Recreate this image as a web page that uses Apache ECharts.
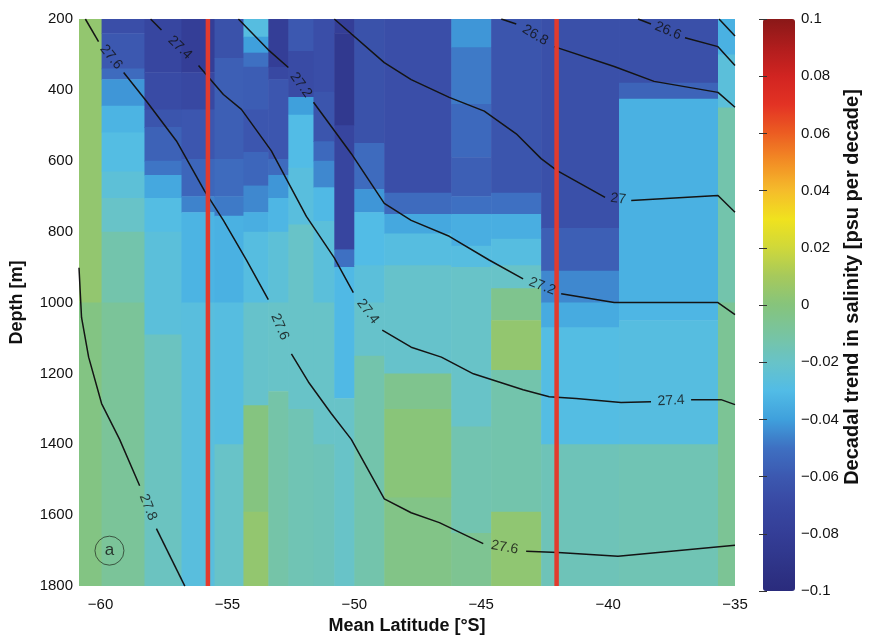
<!DOCTYPE html>
<html>
<head>
<meta charset="utf-8">
<title>Decadal trend in salinity</title>
<script src="https://cdn.jsdelivr.net/npm/echarts@6/dist/echarts.min.js"></script>
<style>
  html, body { margin: 0; padding: 0; background: #fff; }
  #chart { width: 894px; height: 640px; }
</style>
</head>
<body>
<div id="chart"></div>
<script>
// latitude bin edges [deg], south to north
var latEdges = [-60.85, -59.96, -58.27, -56.81, -55.51, -54.37, -53.39, -52.60, -51.61,
                -50.79, -50.00, -48.82, -46.18, -44.61, -42.64, -39.57, -35.67, -35.00];

// one list per latitude bin: [top depth, bottom depth, trend psu/decade]
var trendRuns = [
  [[200,1000,0.004],[1000,1800,-0.002]],
  [[200,240,-0.066],[240,340,-0.06],[340,370,-0.052],[370,445,-0.042],[445,520,-0.033],[520,630,-0.029],[630,705,-0.025],[705,800,-0.02],[800,1000,-0.013],[1000,1800,-0.008]],
  [[200,350,-0.072],[350,455,-0.068],[455,505,-0.062],[505,600,-0.056],[600,640,-0.049],[640,705,-0.037],[705,800,-0.029],[800,1090,-0.026],[1090,1800,-0.018]],
  [[200,350,-0.08],[350,455,-0.07],[455,595,-0.061],[595,700,-0.054],[700,745,-0.046],[745,1000,-0.033],[1000,1800,-0.027]],
  [[200,310,-0.064],[310,595,-0.057],[595,700,-0.052],[700,755,-0.048],[755,1000,-0.034],[1000,1400,-0.028],[1400,1800,-0.02]],
  [[200,250,-0.028],[250,295,-0.04],[295,335,-0.05],[335,455,-0.058],[455,575,-0.061],[575,670,-0.054],[670,745,-0.045],[745,800,-0.035],[800,1000,-0.028],[1000,1290,-0.021],[1290,1590,-0.001],[1590,1800,0.004]],
  [[200,335,-0.08],[335,370,-0.07],[370,595,-0.061],[595,640,-0.052],[640,705,-0.042],[705,800,-0.032],[800,1000,-0.025],[1000,1250,-0.02],[1250,1800,-0.012]],
  [[200,290,-0.06],[290,420,-0.068],[420,470,-0.04],[470,620,-0.03],[620,780,-0.027],[780,1300,-0.02],[1300,1800,-0.015]],
  [[200,405,-0.066],[405,545,-0.062],[545,600,-0.053],[600,675,-0.045],[675,770,-0.031],[770,1000,-0.026],[1000,1400,-0.02],[1400,1800,-0.016]],
  [[200,240,-0.08],[240,500,-0.086],[500,850,-0.073],[850,900,-0.05],[900,1270,-0.031],[1270,1800,-0.02]],
  [[200,550,-0.064],[550,680,-0.052],[680,745,-0.042],[745,895,-0.03],[895,1000,-0.026],[1000,1150,-0.021],[1150,1800,-0.013]],
  [[200,690,-0.066],[690,750,-0.052],[750,805,-0.037],[805,895,-0.028],[895,1200,-0.021],[1200,1300,-0.005],[1300,1550,0.001],[1550,1800,-0.003]],
  [[200,280,-0.042],[280,440,-0.048],[440,590,-0.053],[590,700,-0.057],[700,750,-0.05],[750,840,-0.035],[840,900,-0.028],[900,1350,-0.02],[1350,1650,-0.014],[1650,1800,-0.006]],
  [[200,690,-0.062],[690,750,-0.05],[750,820,-0.035],[820,895,-0.028],[895,960,-0.02],[960,1050,-0.005],[1050,1190,0.004],[1190,1590,-0.013],[1590,1800,0.003]],
  [[200,790,-0.065],[790,910,-0.057],[910,1000,-0.045],[1000,1070,-0.036],[1070,1400,-0.029],[1400,1800,-0.016]],
  [[200,380,-0.065],[380,425,-0.055],[425,1000,-0.034],[1000,1050,-0.032],[1050,1400,-0.028],[1400,1800,-0.015]],
  [[200,300,-0.034],[300,450,-0.026],[450,1000,-0.013],[1000,1800,-0.007]]
];

var latTicks = [-60, -55, -50, -45, -40, -35];
var frontLats = [-55.77, -42.03];

// neutral density contours, broken where the label sits
var contours = [
  { level: '27.8', segments: [
    [[-60.85,902],[-60.75,1042],[-60.47,1154],[-59.96,1285],[-59.25,1386],[-58.46,1517]],
    [[-57.80,1638],[-56.68,1800]] ] },
  { level: '27.6', segments: [
    [[-60.6,200],[-60.08,264]],
    [[-59.09,351],[-58.19,432],[-57.01,544],[-55.91,684],[-55.16,768],[-54.25,880],[-53.39,992]],
    [[-52.48,1145],[-51.81,1224],[-50.91,1313],[-50.12,1386],[-48.82,1554],[-47.76,1593],[-46.65,1621],[-44.92,1680]],
    [[-43.23,1702],[-41.97,1705],[-39.61,1716],[-35,1685]] ] },
  { level: '27.4', segments: [
    [[-58.03,200],[-57.60,231]],
    [[-56.14,331],[-55.83,357],[-55.16,413],[-54.45,455],[-53.27,572],[-51.89,757],[-50.79,874],[-50.04,972]],
    [[-48.90,1078],[-47.76,1126],[-46.57,1154],[-45.31,1201],[-43.35,1246],[-42.32,1266],[-41.26,1271],[-39.49,1282],[-38.31,1280]],
    [[-36.73,1274],[-35.55,1274],[-35,1288]] ] },
  { level: '27.2', segments: [
    [[-54.57,200],[-53.39,287],[-52.60,337]],
    [[-51.61,435],[-50.12,580],[-48.82,720],[-47.76,768],[-46.26,813],[-44.69,880],[-43.35,933]],
    [[-41.85,975],[-39.76,1000],[-35.67,1000],[-35,1034]] ] },
  { level: '27', segments: [
    [[-50.79,200],[-48.82,323],[-47.76,371],[-46.26,421],[-44.88,460],[-43.62,524],[-42.64,594],[-42.01,628],[-40.12,703]],
    [[-39.09,712],[-35.67,698],[-35,745]] ] },
  { level: '26.8', segments: [
    [[-44.21,200],[-43.62,214]],
    [[-42.13,278],[-39.76,334],[-38.19,376],[-35.67,407],[-35,449]] ] },
  { level: '26.6', segments: [
    [[-38.82,200],[-38.31,214]],
    [[-36.97,253],[-35.67,278],[-35,331]] ] },
  { level: '26.4', segments: [
    [[-35.63,200],[-35,248]] ] }
];

var jet = ['#2a2b7c','#2f3589','#343e97','#3848a2','#3c58b0','#3e70c2','#3fa0dc','#52bce6','#68c3c8','#78c4a0',
           '#86c47c','#a6c95c','#cfd83a','#f0e21e','#f5bc2b','#f28e25','#ec5d22','#e33324','#d12421','#b01d1d','#8a1818'];

var FONT = '"Liberation Sans", Arial, sans-serif';

var cells = [];
trendRuns.forEach(function (runs, i) {
  runs.forEach(function (r) {
    cells.push([latEdges[i], latEdges[i + 1], r[0], r[1], r[2]]);
  });
});

function minus(v) {
  return String(parseFloat((+v).toFixed(3))).replace('-', '\u2212');
}

var series = [{
  type: 'custom',
  data: cells,
  encode: { x: [0, 1], y: [2, 3] },
  clip: true,
  silent: true,
  z: 1,
  renderItem: function (params, api) {
    var a = api.coord([api.value(0), api.value(2)]);
    var b = api.coord([api.value(1), api.value(3)]);
    return {
      type: 'rect',
      shape: {
        x: Math.min(a[0], b[0]), y: Math.min(a[1], b[1]),
        width: Math.abs(b[0] - a[0]) + 0.6, height: Math.abs(b[1] - a[1]) + 0.6
      },
      style: { fill: api.visual('color') }
    };
  }
}];

contours.forEach(function (c) {
  c.segments.forEach(function (seg) {
    series.push({
      type: 'line', data: seg, symbol: 'none', silent: true, z: 3,
      lineStyle: { color: '#141414', width: 1.5 }
    });
  });
});

frontLats.forEach(function (lat) {
  series.push({
    type: 'line', data: [[lat, 200], [lat, 1800]], symbol: 'none', silent: true, z: 5,
    lineStyle: { color: '#e23b2e', width: 4.5 }
  });
});

series.push({
  id: 'contourLabels', type: 'scatter', symbolSize: 0, silent: true, z: 6, data: [],
  label: { show: true, position: 'inside', formatter: '{b}', color: '#111', fontSize: 14, fontFamily: FONT }
});

// panel letter
series.push({
  type: 'scatter', silent: true, z: 6, symbol: 'circle', symbolSize: 29,
  itemStyle: { color: 'rgba(0,0,0,0)', borderColor: '#2a3a2a', borderWidth: 1 },
  label: { show: true, position: 'inside', formatter: 'a', color: '#111', fontSize: 17, fontFamily: FONT },
  data: [[-59.65, 1700]]
});

var chart = echarts.init(document.getElementById('chart'));
chart.setOption({
  animation: false,
  backgroundColor: '#fff',
  textStyle: { fontFamily: FONT },
  grid: [
    { left: 78, top: 19, width: 657, height: 572 },
    { left: 763, top: 19, width: 32, height: 572 }
  ],
  xAxis: [{
    type: 'value', min: -60.85, max: -35,
    axisLine: { show: false }, axisTick: { show: false }, splitLine: { show: false },
    axisLabel: { customValues: latTicks, formatter: minus, fontSize: 15, color: '#111', margin: 11 },
    name: 'Mean Latitude [\u00b0S]', nameLocation: 'middle', nameGap: 27,
    nameTextStyle: { fontSize: 18, fontWeight: 'bold', color: '#111' }
  }, {
    gridIndex: 1, type: 'value', min: 0, max: 1, show: false
  }],
  yAxis: [{
    type: 'value', inverse: true, min: 200, max: 1800, interval: 200,
    axisLine: { show: false }, axisTick: { show: false }, splitLine: { show: false },
    axisLabel: { formatter: function (v) { return String(v); }, fontSize: 15, color: '#111', margin: 6 },
    name: 'Depth [m]', nameLocation: 'middle', nameGap: 53,
    nameTextStyle: { fontSize: 18, fontWeight: 'bold', color: '#111' }
  }, {
    gridIndex: 1, type: 'value', position: 'right', min: -0.1, max: 0.1, interval: 0.02, z: 10,
    axisLine: { show: false }, splitLine: { show: false },
    axisTick: { show: true, inside: true, length: 4, lineStyle: { color: '#333' } },
    axisLabel: { formatter: minus, fontSize: 15, color: '#111', margin: 6 }
  }, {
    gridIndex: 1, type: 'value', position: 'left', min: -0.1, max: 0.1, interval: 0.02, z: 10,
    axisLine: { show: false }, splitLine: { show: false },
    axisTick: { show: true, inside: true, length: 4, lineStyle: { color: '#333' } },
    axisLabel: { show: false }
  }],
  visualMap: {
    type: 'continuous', min: -0.1, max: 0.1, seriesIndex: 0, dimension: 4,
    inRange: { color: jet },
    left: 763, top: 19, itemWidth: 32, itemHeight: 572, padding: 0,
    calculable: false, hoverLink: false
  },
  graphic: [{
    type: 'text', x: 852, y: 287, rotation: Math.PI / 2,
    style: {
      text: 'Decadal trend in salinity [psu per decade]',
      font: 'bold 20px ' + FONT, fill: '#111', align: 'center', verticalAlign: 'middle'
    }
  }],
  series: series
});

// label each gap, turned along the contour
var labelData = [];
contours.forEach(function (c) {
  for (var i = 0; i + 1 < c.segments.length; i++) {
    var p = c.segments[i][c.segments[i].length - 1];
    var q = c.segments[i + 1][0];
    var pp = chart.convertToPixel({ gridIndex: 0 }, p);
    var qq = chart.convertToPixel({ gridIndex: 0 }, q);
    var ang = Math.atan2(qq[1] - pp[1], qq[0] - pp[0]) * 180 / Math.PI;
    if (ang > 90) ang -= 180;
    if (ang < -90) ang += 180;
    labelData.push({
      name: c.level,
      value: [(p[0] + q[0]) / 2, (p[1] + q[1]) / 2],
      label: { rotate: -ang }
    });
  }
});
chart.setOption({ series: [{ id: 'contourLabels', data: labelData }] });
</script>
</body>
</html>
